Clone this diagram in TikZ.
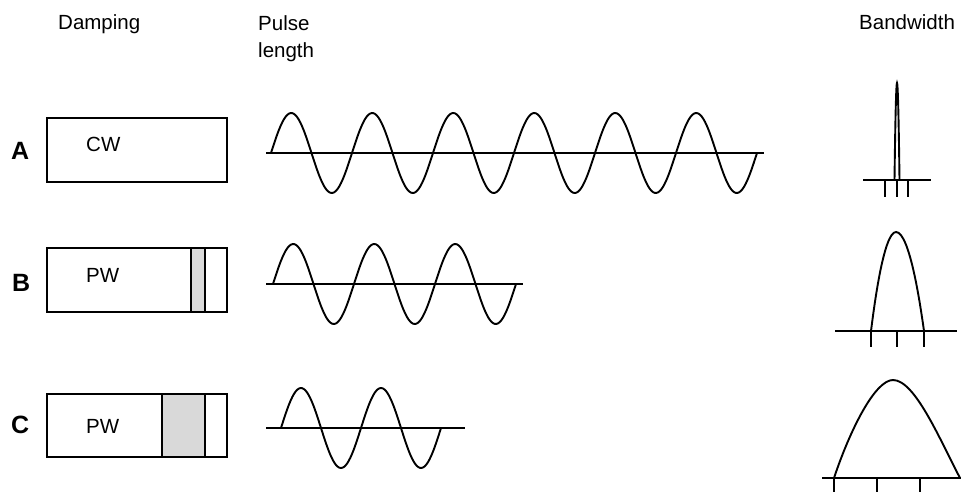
\documentclass[tikz,border=0pt]{standalone}
\usepackage{fontspec}
\setsansfont{Liberation Sans}
\tikzset{
  frame/.style={line width=1.9pt},
  trace/.style={line width=1.9pt},
  head/.style={font=\sffamily\fontsize{20.5}{27}\selectfont, align=left, inner sep=0pt},
  rowlbl/.style={font=\sffamily\bfseries\fontsize{25}{27}\selectfont, inner sep=0pt},
  mode/.style={font=\sffamily\fontsize{20.5}{24}\selectfont, inner sep=0pt},
}
\begin{document}
\begin{tikzpicture}[x=1pt, y=-1pt]
\useasboundingbox (0,0) rectangle (961,492);
% column heads
\node[head, anchor=base west] (damping) at (58,30) {Damping};
\node[head, anchor=base west] (pulse) at (258,58) {Pulse\\length};
\node[head, anchor=base west] (bandwidth) at (859,30) {Bandwidth};

% row labels
\node[rowlbl, anchor=base west] (rowA) at (11,160) {A};
\node[rowlbl, anchor=base west] (rowB) at (12,291) {B};
\node[rowlbl, anchor=base west] (rowC) at (11,433) {C};

% damping boxes
\draw[frame] (47,118) rectangle (227,182);
\node[mode, anchor=base west] (cw) at (86,152) {CW};
\draw[frame, fill=gray!30] (191,248) rectangle (205,312);
\draw[frame] (47,248) rectangle (227,312);
\node[mode, anchor=base west] (pwB) at (86,282) {PW};
\draw[frame, fill=gray!30] (162,394) rectangle (205,457);
\draw[frame] (47,394) rectangle (227,457);
\node[mode, anchor=base west] (pwC) at (86,433) {PW};

% pulse trains
\draw[trace] (266,153) -- (764,153);
\draw[trace] plot[domain=0:2160, samples=300, smooth] ({271+\x/360*81}, {153-40*sin(\x)});
\draw[trace] (266,284) -- (523,284);
\draw[trace] plot[domain=0:1080, samples=150, smooth] ({273+\x/360*81}, {284-40*sin(\x)});
\draw[trace] (266,428) -- (465,428);
\draw[trace] plot[domain=0:720, samples=100, smooth] ({281+\x/360*80}, {428-40*sin(\x)});

% spectra
\draw[trace] (863,180) -- (931,180);
\foreach \t in {885,897,908} \draw[trace] (\t,180) -- (\t,197);
\draw[trace] (894.5,180) parabola bend (897,83) (899.5,180);

\draw[trace] (835,331) -- (957,331);
\foreach \t in {871,897,924} \draw[trace] (\t,331) -- (\t,347);
\draw[trace] (871,331) parabola bend (896,232) (924,331);

\draw[trace] (822,478) -- (961,478);
\foreach \t in {834,877,920} \draw[trace] (\t,478) -- (\t,492);
\draw[trace] (834,478) .. controls (850,430) and (875,380) .. (893,380) .. controls (915,380) and (940,440) .. (960,478);
\end{tikzpicture}
\end{document}
